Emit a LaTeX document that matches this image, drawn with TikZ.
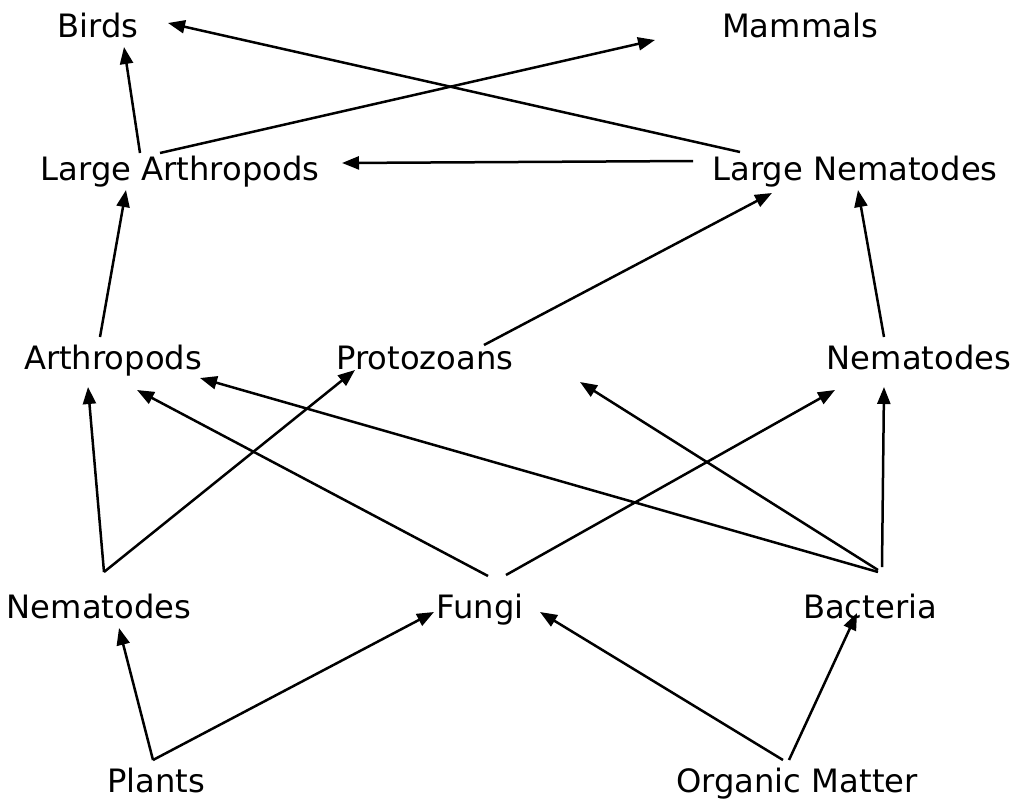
\documentclass[tikz,border=0pt]{standalone}
\usepackage{fontspec}
\setmainfont{DejaVu Sans}
\usetikzlibrary{arrows.meta,calc}
\begin{document}
\begin{tikzpicture}[x=1pt,y=-1pt,
  taxon/.style={anchor=base,inner sep=0pt,font=\fontsize{32.2}{36}\selectfont},
  feeds/.style={line width=2.5pt,-{Triangle[length=17pt,width=13pt]}}]
\useasboundingbox (0,0) rectangle (1015,801);
% food-web members, placed by their baselines
\node[taxon] (birds)   at (98,37)  {Birds};
\node[taxon] (mammals) at (800,37) {Mammals};
\node[taxon] (lart)    at (180,180) {Large Arthropods};
\node[taxon] (lnem)    at (855,180) {Large Nematodes};
\node[taxon] (arth)    at (113,369) {Arthropods};
\node[taxon] (proto)   at (425,369) {Protozoans};
\node[taxon] (nemM)    at (919,369) {Nematodes};
\node[taxon] (nemB)    at (99,618)  {Nematodes};
\node[taxon] (fungi)   at (480,618) {Fungi};
\node[taxon] (bact)    at (870,618) {Bacteria};
\node[taxon] (plants)  at (156,792) {Plants};
\node[taxon] (org)     at (797,792) {Organic Matter};
% energy flow
\draw[feeds] ($(lart.base)+(-40,-27)$) -- ($(birds.base)+(26,10)$);
\draw[feeds] ($(lart.base)+(-20,-27)$) -- ($(mammals.base)+(-145,3)$);
\draw[feeds] ($(lnem.base)+(-115,-28)$) -- ($(birds.base)+(70,-14)$);
\draw[feeds] ($(lnem.base)+(-162,-19)$) -- ($(lart.base)+(162,-17)$);
\draw[feeds] ($(proto.base)+(59,-24)$) -- ($(lnem.base)+(-83,13)$);
\draw[feeds] ($(nemM.base)+(-35,-32)$) -- ($(lnem.base)+(3,10)$);
\draw[feeds] ($(arth.base)+(-13,-32)$) -- ($(lart.base)+(-54,10)$);
\draw[feeds] ($(nemB.base)+(5,-46)$) -- ($(arth.base)+(-25,18)$);
\draw[feeds] ($(nemB.base)+(5,-46)$) -- ($(proto.base)+(-70,1)$);
\draw[feeds] ($(fungi.base)+(8,-42)$) -- ($(arth.base)+(24,21)$);
\draw[feeds] ($(fungi.base)+(26,-43)$) -- ($(nemM.base)+(-84,21)$);
\draw[feeds] ($(bact.base)+(8,-46)$) -- ($(arth.base)+(87,9)$);
\draw[feeds] ($(bact.base)+(8,-48)$) -- ($(proto.base)+(155,13)$);
\draw[feeds] ($(bact.base)+(12,-51)$) -- ($(nemM.base)+(-35,18)$);
\draw[feeds] ($(plants.base)+(-3,-32)$) -- ($(nemB.base)+(20,10)$);
\draw[feeds] ($(plants.base)+(-3,-32)$) -- ($(fungi.base)+(-46,-6)$);
\draw[feeds] ($(org.base)+(-14,-32)$) -- ($(fungi.base)+(60,-6)$);
\draw[feeds] ($(org.base)+(-8,-32)$) -- ($(bact.base)+(-13,-5)$);
\end{tikzpicture}
\end{document}
